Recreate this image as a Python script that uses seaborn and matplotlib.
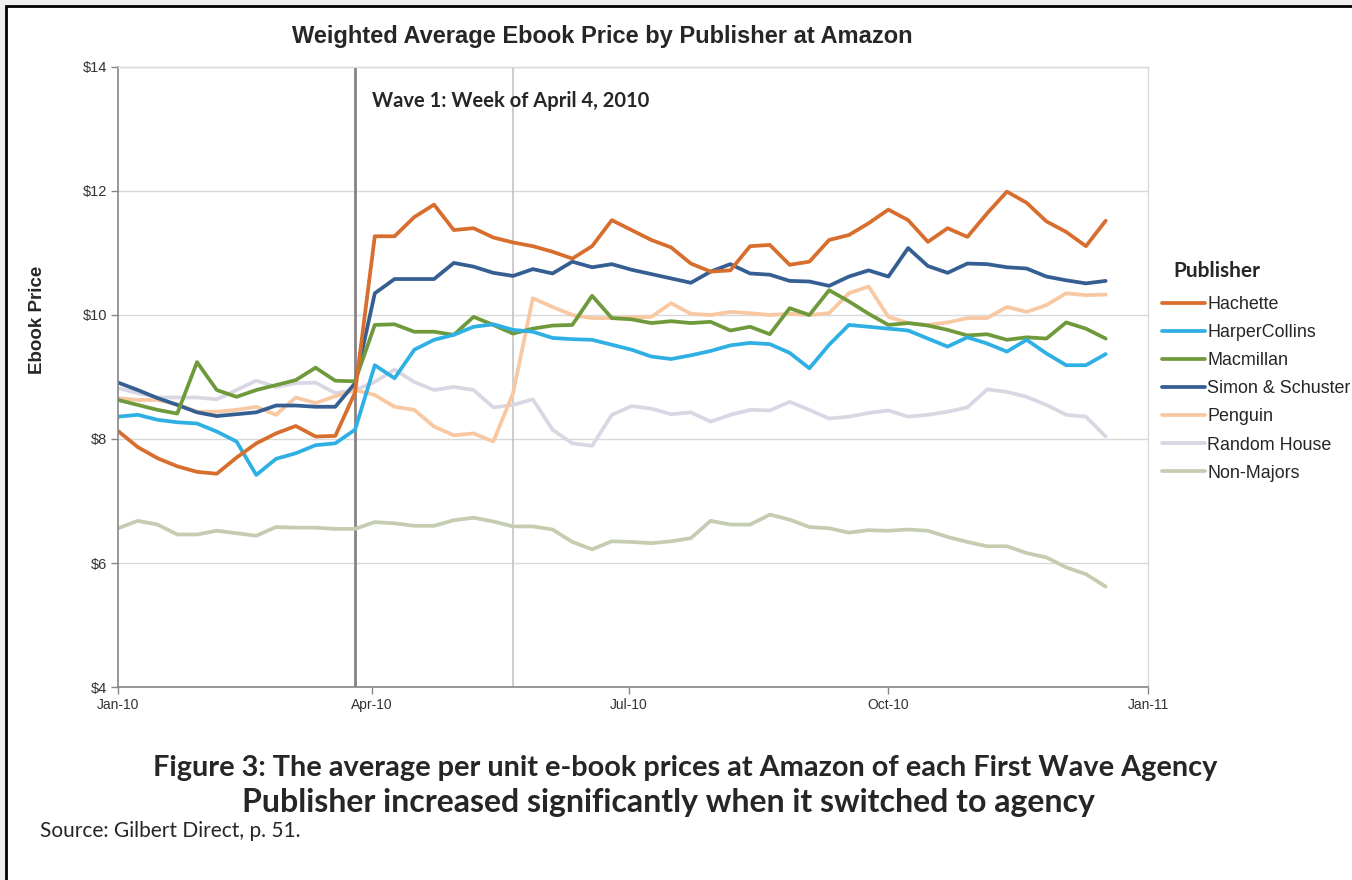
import numpy as np
import pandas as pd
import matplotlib
matplotlib.use('Agg')
import matplotlib.pyplot as plt
import matplotlib.dates as mdates
import matplotlib.patches as patches
import seaborn as sns

# weekly series, starting week of Jan 1, 2010
START_DATE = '2010-01-01'
N_WEEKS = 51
WAVE1_DATE = '2010-03-26'
PENGUIN_DATE = '2010-05-21'

publishers = ['Hachette', 'HarperCollins', 'Macmillan', 'Simon & Schuster',
              'Penguin', 'Random House', 'Non-Majors']

hachette = [8.13, 7.87, 7.69, 7.56, 7.47, 7.44, 7.70, 7.93, 8.09, 8.21, 8.04, 8.05, 8.75,
            11.27, 11.27, 11.58, 11.78, 11.37, 11.40, 11.25, 11.17, 11.11, 11.02, 10.91, 11.11, 11.53,
            11.37, 11.21, 11.09, 10.83, 10.70, 10.72, 11.11, 11.13, 10.81, 10.86, 11.21, 11.29, 11.48,
            11.70, 11.53, 11.18, 11.40, 11.26, 11.64, 11.99, 11.81, 11.51, 11.34, 11.11, 11.52]
harpercollins = [8.36, 8.39, 8.31, 8.27, 8.25, 8.12, 7.96, 7.42, 7.68, 7.77, 7.90, 7.93, 8.15,
                 9.19, 8.98, 9.44, 9.60, 9.68, 9.81, 9.85, 9.76, 9.73, 9.63, 9.61, 9.60, 9.52,
                 9.44, 9.33, 9.29, 9.35, 9.42, 9.51, 9.55, 9.53, 9.39, 9.14, 9.52, 9.84, 9.81,
                 9.78, 9.75, 9.62, 9.49, 9.64, 9.54, 9.41, 9.60, 9.38, 9.19, 9.19, 9.37]
macmillan = [8.63, 8.55, 8.47, 8.41, 9.24, 8.79, 8.68, 8.79, 8.87, 8.95, 9.15, 8.94, 8.93,
             9.84, 9.85, 9.73, 9.73, 9.68, 9.97, 9.84, 9.70, 9.78, 9.83, 9.84, 10.31, 9.95,
             9.93, 9.87, 9.90, 9.87, 9.89, 9.75, 9.81, 9.69, 10.11, 10.00, 10.40, 10.22, 10.02,
             9.84, 9.87, 9.83, 9.76, 9.67, 9.69, 9.60, 9.64, 9.62, 9.88, 9.78, 9.62]
simon_schuster = [8.91, 8.79, 8.66, 8.55, 8.43, 8.37, 8.40, 8.43, 8.54, 8.54, 8.52, 8.52, 8.90,
                  10.35, 10.58, 10.58, 10.58, 10.84, 10.78, 10.68, 10.63, 10.74, 10.67, 10.86, 10.77, 10.82,
                  10.73, 10.66, 10.59, 10.52, 10.70, 10.82, 10.67, 10.65, 10.55, 10.54, 10.47, 10.62, 10.72,
                  10.62, 11.08, 10.79, 10.68, 10.83, 10.82, 10.77, 10.75, 10.62, 10.56, 10.51, 10.55]
penguin = [8.66, 8.63, 8.63, 8.56, 8.44, 8.44, 8.47, 8.52, 8.39, 8.67, 8.58, 8.69, 8.79,
           8.71, 8.52, 8.47, 8.20, 8.06, 8.09, 7.96, 8.74, 10.27, 10.13, 10.00, 9.95, 9.95,
           9.96, 9.97, 10.19, 10.02, 10.00, 10.05, 10.03, 10.00, 10.02, 10.00, 10.03, 10.35, 10.46,
           9.97, 9.87, 9.84, 9.88, 9.95, 9.95, 10.13, 10.05, 10.16, 10.35, 10.32, 10.33]
random_house = [8.82, 8.74, 8.67, 8.67, 8.67, 8.64, 8.79, 8.94, 8.84, 8.90, 8.91, 8.74, 8.79,
                8.92, 9.12, 8.92, 8.79, 8.84, 8.79, 8.51, 8.55, 8.64, 8.15, 7.93, 7.89, 8.39,
                8.53, 8.49, 8.40, 8.43, 8.28, 8.39, 8.47, 8.46, 8.60, 8.47, 8.33, 8.36, 8.42,
                8.46, 8.36, 8.39, 8.44, 8.51, 8.80, 8.76, 8.68, 8.55, 8.39, 8.36, 8.04]
non_majors = [6.56, 6.68, 6.62, 6.46, 6.46, 6.52, 6.48, 6.44, 6.58, 6.57, 6.57, 6.55, 6.55,
              6.66, 6.64, 6.60, 6.60, 6.69, 6.73, 6.67, 6.59, 6.59, 6.54, 6.34, 6.22, 6.35,
              6.34, 6.32, 6.35, 6.40, 6.68, 6.62, 6.62, 6.78, 6.70, 6.58, 6.56, 6.49, 6.53,
              6.52, 6.54, 6.52, 6.42, 6.34, 6.27, 6.27, 6.16, 6.09, 5.93, 5.82, 5.62]

colors = ['#d86e2d', '#2eb0e4', '#6f9a3c', '#355f92', '#f8c8a2', '#dad7e4', '#c5cdb1']

y_ticks = [4, 6, 8, 10, 12, 14]
x_tick_dates = ['2010-01-01', '2010-04-01', '2010-07-01', '2010-10-01', '2011-01-01']


def build_frame():
    weeks = pd.date_range(START_DATE, periods=N_WEEKS, freq='7D')
    wide = pd.DataFrame({'week': weeks})
    for name, vals in zip(publishers, [hachette, harpercollins, macmillan, simon_schuster,
                                       penguin, random_house, non_majors]):
        wide[name] = vals
    return wide.melt(id_vars='week', var_name='publisher', value_name='price')


def main():
    sns.set_theme(style='white')
    plt.rcParams['font.family'] = ['Liberation Sans', 'DejaVu Sans']
    df = build_frame()

    fig = plt.figure(figsize=(13.52, 8.8), dpi=100, facecolor='#efefef')
    # page frame behind everything
    fig.patches.append(patches.Rectangle((6 / 1352, -0.05), 1.1, 1.05 - 6 / 880,
                                         transform=fig.transFigure, facecolor='white',
                                         edgecolor='black', linewidth=2, zorder=-10))
    ax = fig.add_axes([118 / 1352, 1 - 687 / 880, (1148 - 118) / 1352, (687 - 67) / 880])
    ax.set_facecolor('white')

    # draw in reverse so Hachette ends on top
    for name, col in reversed(list(zip(publishers, colors))):
        sub = df[df['publisher'] == name]
        sns.lineplot(data=sub, x='week', y='price', color=col, linewidth=2.7,
                     ax=ax, label=name, solid_joinstyle='round', solid_capstyle='round')

    ax.axvline(pd.Timestamp(WAVE1_DATE), color='#8a8282', linewidth=2, zorder=1.5)
    ax.axvline(pd.Timestamp(PENGUIN_DATE), color='#c4c4c4', linewidth=1.2, zorder=1.5)

    ax.set_xlim(pd.Timestamp(x_tick_dates[0]), pd.Timestamp(x_tick_dates[-1]))
    ax.set_ylim(y_ticks[0], y_ticks[-1])
    ax.set_yticks(y_ticks)
    ax.set_yticklabels([f'${v}' for v in y_ticks], fontsize=10.5, color='#333333')
    ax.set_xticks([pd.Timestamp(d) for d in x_tick_dates])
    ax.xaxis.set_major_formatter(mdates.DateFormatter('%b-%y'))
    plt.setp(ax.get_xticklabels(), fontsize=10, color='#333333')
    ax.tick_params(axis='both', direction='out', length=5, width=1, color='#868686',
                   left=True, bottom=True, pad=3)
    ax.yaxis.grid(True, color='#d9d9d9', linewidth=1)
    ax.set_axisbelow(True)
    ax.set_xlabel('')
    ax.set_ylabel('')
    for side in ['left', 'bottom']:
        ax.spines[side].set_color('#868686')
        ax.spines[side].set_linewidth(1.2)
    for side in ['top', 'right']:
        ax.spines[side].set_color('#d9d9d9')
        ax.spines[side].set_linewidth(1)

    ax.text(pd.Timestamp('2010-04-01'), 13.45, 'Wave 1: Week of April 4, 2010',
            family='Lato', fontweight='bold', fontsize=14.5, va='center', ha='left')

    handles, labels = ax.get_legend_handles_labels()
    lookup = dict(zip(labels, handles))
    ax.legend([lookup[p] for p in publishers], publishers, loc='upper left',
              bbox_to_anchor=(1162 / 1352, 1 - 296 / 880), bbox_transform=fig.transFigure,
              frameon=False, fontsize=12.9, handlelength=2.4, handletextpad=0.12,
              labelspacing=0.62, borderpad=0, borderaxespad=0)
    fig.text(1173 / 1352, 1 - 271 / 880, 'Publisher', family='Lato', fontweight='bold',
             fontsize=15, va='center', ha='left')

    fig.text(602 / 1352, 1 - 37 / 880, 'Weighted Average Ebook Price by Publisher at Amazon',
             fontweight='bold', fontsize=17, ha='center', va='center')
    fig.text(38 / 1352, 1 - 320 / 880, 'Ebook Price', fontweight='bold', fontsize=13.5,
             rotation=90, ha='center', va='center')

    fig.text(685 / 1352, 1 - 768 / 880,
             'Figure 3: The average per unit e-book prices at Amazon of each First Wave Agency',
             family='Lato', fontweight='bold', fontsize=20.8, ha='center', va='center')
    fig.text(668 / 1352, 1 - 802 / 880,
             'Publisher increased significantly when it switched to agency',
             family='Lato', fontweight='bold', fontsize=23, ha='center', va='center')
    fig.text(40 / 1352, 1 - 831 / 880, 'Source: Gilbert Direct, p. 51.', family='Lato',
             fontsize=15, ha='left', va='center')

    fig.savefig('out.png', dpi=100, facecolor=fig.get_facecolor())
    plt.close(fig)


if __name__ == '__main__':
    main()
